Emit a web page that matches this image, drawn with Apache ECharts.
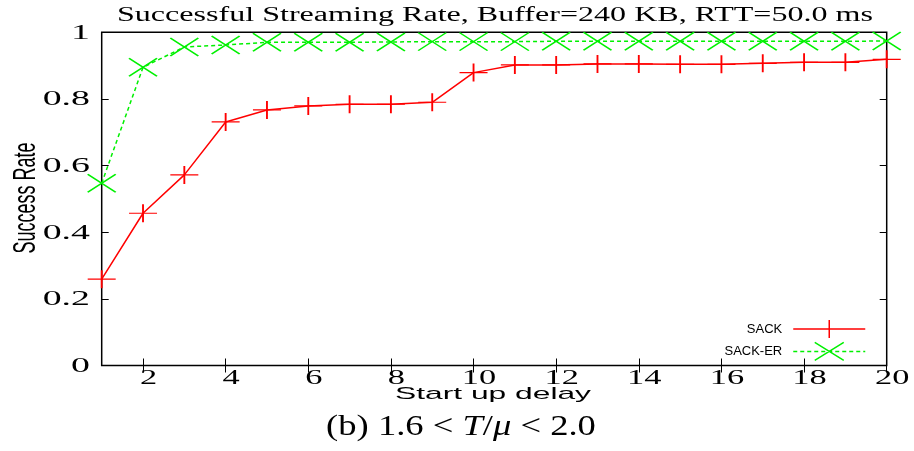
<!DOCTYPE html>
<html><head><meta charset="utf-8">
<script src="https://cdn.jsdelivr.net/npm/echarts@6/dist/echarts.min.js"></script>
<style>html,body{margin:0;padding:0;background:#fff}#c{width:914px;height:451px}</style>
</head><body><div id="c"></div>
<script>
// ---- data ----
const delays = [1,2,3,4,5,6,7,8,9,10,11,12,13,14,15,16,17,18,19,20];
const sack   = [0.259,0.457,0.572,0.731,0.767,0.779,0.784,0.784,0.790,0.879,0.902,0.902,0.905,0.905,0.904,0.904,0.907,0.910,0.910,0.919];
const sackER = [0.547,0.895,0.956,0.962,0.970,0.970,0.970,0.971,0.972,0.972,0.972,0.973,0.973,0.973,0.973,0.973,0.973,0.973,0.973,0.974];
const xTicks = [2,4,6,8,10,12,14,16,18,20];
const xTickLabels = ['2','4','6','8','10','12','14','16','18','20'];
const yTicks = [0,0.2,0.4,0.6,0.8,1];
const yTickLabels = ['0','0.2','0.4','0.6','0.8','1'];
const seriesNames = ['SACK','SACK-ER'];
const titleText = 'Successful Streaming Rate, Buffer=240 KB, RTT=50.0 ms';
const xName = 'Start up delay';
const yName = 'Success Rate';
const captionText = '(b) 1.6 < {it|T}/{it|\u03bc} < 2.0';
const captionPlain = '(b) 1.6 < T/\u03bc < 2.0';

// ---- chart ----
const SERIF = "'Liberation Serif', 'Times New Roman', serif";
const SANS = "'Liberation Sans', Arial, sans-serif";
const plusPath = 'path://M0,5L10,5M5,0L5,10';
const crossPath = 'path://M0,0L10,10M0,10L10,0';
const RED = '#ff0000', GREEN = '#00f000';

// legend icons: key line + marker (gnuplot style)
const LW = 72, LH = 18;
const legendPlusIcon = 'path://M0,' + LH / 2 + 'L' + LW + ',' + LH / 2 + 'M' + LW / 2 + ',0L' + LW / 2 + ',' + LH;
let dashed = '';
for (let s = 0; s < LW; s += 7) dashed += 'M' + s + ',' + LH / 2 + 'L' + Math.min(s + 4, LW) + ',' + LH / 2;
const legendCrossIcon = 'path://' + dashed +
  'M' + (LW / 2 - 14.5) + ',0L' + (LW / 2 + 14.5) + ',' + LH +
  'M' + (LW / 2 - 14.5) + ',' + LH + 'L' + (LW / 2 + 14.5) + ',0';

const chart = echarts.init(document.getElementById('c'), null, {renderer: 'canvas'});

function tickAxis(extra) {
  return Object.assign({
    type: 'value',
    axisLine: {show: false},
    axisTick: {show: true, inside: true, length: 7, lineStyle: {color: '#000', width: 1}},
    axisLabel: {show: false},
    splitLine: {show: false}
  }, extra);
}

const legendCommon = {
  orient: 'horizontal', align: 'right', right: 48, padding: 0,
  itemWidth: LW, itemHeight: LH, selectedMode: false,
  itemStyle: {borderWidth: 1.5},
  textStyle: {fontFamily: SANS, fontSize: 13, color: '#000', padding: [0, 6, 0, 0]}
};

const option = {
  animation: false,
  backgroundColor: '#fff',
  grid: {left: 101.7, right: 27.3, top: 32.3, bottom: 85.5, show: true,
         borderColor: '#000', borderWidth: 1.5, backgroundColor: 'transparent',
         outerBoundsMode: 'none'},
  xAxis: [
    tickAxis({min: 1, max: 20, position: 'bottom',
      axisTick: {show: true, inside: true, length: 7, customValues: xTicks, lineStyle: {color: '#000'}}}),
    tickAxis({min: 1, max: 20, position: 'top',
      axisTick: {show: true, inside: true, length: 7, customValues: xTicks, lineStyle: {color: '#000'}}})
  ],
  yAxis: [
    tickAxis({min: 0, max: 1, interval: 0.2, position: 'left'}),
    tickAxis({min: 0, max: 1, interval: 0.2, position: 'right'})
  ],
  legend: [
    Object.assign({}, legendCommon, {data: [{name: seriesNames[0], icon: legendPlusIcon}], top: 319.3}),
    Object.assign({}, legendCommon, {data: [{name: seriesNames[1], icon: legendCrossIcon}], top: 341.7})
  ],
  series: [
    {
      name: seriesNames[0], type: 'line', clip: false,
      data: delays.map((d, i) => [d, sack[i]]),
      symbol: plusPath, symbolSize: [28, 18], showAllSymbol: true,
      lineStyle: {color: RED, width: 1.5},
      itemStyle: {color: RED, borderColor: RED, borderWidth: 1.5},
      emphasis: {disabled: true}
    },
    {
      name: seriesNames[1], type: 'line', clip: false,
      data: delays.map((d, i) => [d, sackER[i]]),
      symbol: crossPath, symbolSize: [28, 18], showAllSymbol: true,
      lineStyle: {color: GREEN, width: 1.5, type: [4, 3]},
      itemStyle: {color: GREEN, borderColor: GREEN, borderWidth: 1.5},
      emphasis: {disabled: true}
    }
  ]
};
chart.setOption(option);

// ---- stretched texts (reference is horizontally stretched) ----
const cv = document.createElement('canvas').getContext('2d');
function measure(text, size, family, style) {
  cv.font = (style || '') + ' ' + size + 'px ' + family;
  return cv.measureText(text).width;
}
const TICK_SCALE = 1.72;
const g = [];
function addText(text, x, y, size, family, align, sx, sy, rot, extra) {
  g.push({
    type: 'text', x: x, y: y, scaleX: sx, scaleY: sy || 1, rotation: rot || 0, silent: true,
    style: Object.assign({text: text, fontSize: size, fontFamily: family, fill: '#000',
      align: align, verticalAlign: 'middle'}, extra || {})
  });
}
// title
addText(titleText, 495, 16, 20, SERIF, 'center', 756 / measure(titleText, 20, SERIF));
// x tick labels
xTicks.forEach((v, i) => {
  const px = chart.convertToPixel({xAxisIndex: 0}, v);
  addText(xTickLabels[i], px + 5.5, 378.5, 20, SERIF, 'center', TICK_SCALE);
});
// y tick labels
yTicks.forEach((v, i) => {
  const py = chart.convertToPixel({yAxisIndex: 0}, v);
  addText(yTickLabels[i], 90, py + 0.5, 22, SERIF, 'right', TICK_SCALE);
});
// axis names
addText(xName, 493, 394, 17, SANS, 'center', 196 / measure(xName, 17, SANS));
addText(yName, 26.5, 198, 18, SANS, 'center', 1, 1.75, Math.PI / 2);
// caption
addText(captionText, 461, 427, 30, SERIF, 'center', 273 / measure(captionPlain, 30, SERIF), 1, 0,
  {rich: {it: {fontStyle: 'italic', fontSize: 30, fontFamily: SERIF}}});

chart.setOption({graphic: {elements: g}});
</script>
</body></html>
